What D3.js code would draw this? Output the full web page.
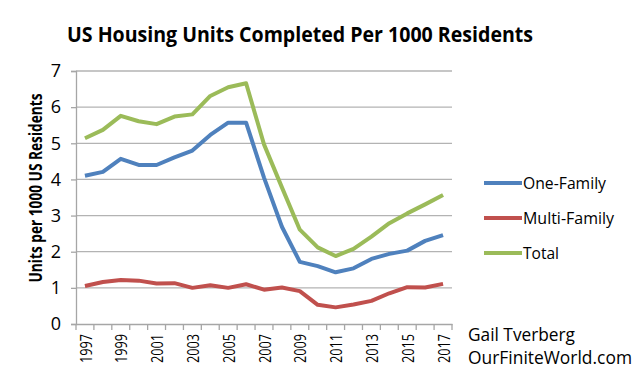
<!DOCTYPE html>
<html><head><meta charset="utf-8">
<script src="https://cdn.jsdelivr.net/npm/d3@7"></script>
<style>body{margin:0;background:#fff}svg{display:block}</style>
</head><body>
<svg id="c" width="640" height="383"></svg>
<script>
const years = d3.range(1997, 2018);
const oneFamily = [4.10,4.21,4.57,4.40,4.40,4.61,4.80,5.23,5.57,5.57,4.05,2.69,1.72,1.60,1.43,1.54,1.80,1.94,2.03,2.30,2.46];
const multiFamily = [1.05,1.16,1.22,1.20,1.12,1.13,1.00,1.07,1.00,1.10,0.95,1.01,0.91,0.53,0.46,0.54,0.64,0.85,1.02,1.01,1.11];
const total = [5.14,5.37,5.76,5.61,5.53,5.74,5.80,6.31,6.55,6.66,4.97,3.78,2.61,2.12,1.88,2.08,2.42,2.79,3.06,3.31,3.57];
const yTicks = [0,1,2,3,4,5,6,7];
const seriesNames = ["One-Family","Multi-Family","Total"];
const colors = ["#4F81BD","#C0504D","#9BBB59"];
const seriesData = [oneFamily, multiFamily, total];

const svg = d3.select("#c");
const font = "'Open Sans', 'Liberation Sans', sans-serif";
const L = 76, R = 452, T = 71, B = 324;
const x = d3.scaleBand().domain(years).range([L, R]);
const y = d3.scaleLinear().domain([0, 7]).range([B, T]);

// gridlines
svg.append("g").selectAll("line").data(yTicks.filter(d => d > 0)).join("line")
  .attr("x1", L).attr("x2", R).attr("y1", d => y(d)).attr("y2", d => y(d))
  .attr("stroke", "#b3b3b3").attr("stroke-width", 1.3);

// y axis
const yAxis = svg.append("g").attr("transform", `translate(${L},0)`)
  .call(d3.axisLeft(y).tickValues(yTicks).tickSize(5).tickPadding(10).tickFormat(d3.format("d")));
yAxis.select(".domain").attr("stroke", "#a6a6a6").attr("stroke-width", 1.3);
yAxis.selectAll(".tick line").attr("stroke", "#a6a6a6").attr("stroke-width", 1.3);
yAxis.selectAll("text").attr("font-family", font).attr("font-size", 18).attr("fill", "#000");

// x axis
const xAxis = svg.append("g").attr("transform", `translate(0,${B})`)
  .call(d3.axisBottom(x).tickValues(years).tickSize(0).tickFormat(d => d % 2 === 1 ? d : ""));
xAxis.select(".domain").attr("stroke", "#a6a6a6").attr("stroke-width", 1.3);
xAxis.selectAll("text").filter(d => d % 2 === 1)
  .attr("font-family", font).attr("font-size", 16).attr("fill", "#000")
  .attr("textLength", 29).attr("lengthAdjust", "spacingAndGlyphs")
  .attr("transform", "rotate(-90)").attr("text-anchor", "end").attr("dy", "0.35em")
  .attr("x", -10).attr("y", 1);
// x boundary ticks
const bounds = years.map(d => x(d)).concat([R]);
svg.append("g").selectAll("line").data(bounds).join("line")
  .attr("x1", d => d).attr("x2", d => d).attr("y1", B).attr("y2", B + 6)
  .attr("stroke", "#a6a6a6").attr("stroke-width", 1.3);

// lines
const line = d3.line().x((d, i) => x(years[i]) + x.bandwidth() / 2).y(d => y(d));
seriesData.forEach((s, i) => {
  svg.append("path").datum(s).attr("d", line).attr("fill", "none")
    .attr("stroke", colors[i]).attr("stroke-width", 4).attr("stroke-linejoin", "round");
});

// title
svg.append("text").attr("x", 300).attr("y", 42).attr("text-anchor", "middle")
  .attr("font-family", font).attr("font-weight", "bold").attr("font-size", 21)
  .attr("textLength", 466).attr("lengthAdjust", "spacingAndGlyphs")
  .text("US Housing Units Completed Per 1000 Residents");

// y label
svg.append("text").attr("transform", "translate(42,188) rotate(-90)").attr("text-anchor", "middle")
  .attr("font-family", font).attr("font-weight", "bold").attr("font-size", 17)
  .attr("textLength", 189).attr("lengthAdjust", "spacingAndGlyphs")
  .text("Units per 1000 US Residents");

// legend
const ly = [183, 218, 253];
const lw = [83, 91, 36];
seriesNames.forEach((n, i) => {
  svg.append("line").attr("x1", 484).attr("x2", 522).attr("y1", ly[i]).attr("y2", ly[i])
    .attr("stroke", colors[i]).attr("stroke-width", 4);
  svg.append("text").attr("x", 523).attr("y", ly[i]).attr("dy", "0.36em")
    .attr("font-family", font).attr("font-size", 17)
    .attr("textLength", lw[i]).attr("lengthAdjust", "spacingAndGlyphs").text(n);
});

svg.append("text").attr("x", 468).attr("y", 341).attr("font-family", font).attr("font-size", 18)
  .attr("textLength", 107).attr("lengthAdjust", "spacingAndGlyphs").text("Gail Tverberg");
svg.append("text").attr("x", 468).attr("y", 364).attr("font-family", font).attr("font-size", 18)
  .attr("textLength", 164).attr("lengthAdjust", "spacingAndGlyphs").text("OurFiniteWorld.com");
</script>
</body></html>
